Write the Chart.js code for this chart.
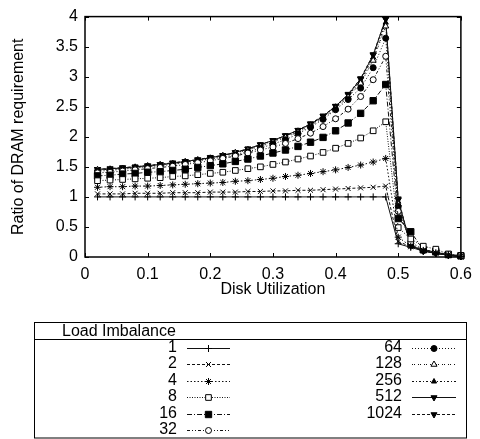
<!DOCTYPE html>
<html>
<head>
<meta charset="utf-8">
<script src="https://cdn.jsdelivr.net/npm/chart.js@4/dist/chart.umd.min.js"></script>
<style>
  html, body { margin: 0; padding: 0; background: #fff; }
  canvas { display: block; }
</style>
</head>
<body>
<canvas id="c" width="480" height="439"></canvas>
<script>
// Disk utilization (x) and DRAM requirement ratio for each load-imbalance factor
const utilization = [0.02,0.04,0.06,0.08,0.10,0.12,0.14,0.16,0.18,0.20,0.22,0.24,0.26,0.28,0.30,
                     0.32,0.34,0.36,0.38,0.40,0.42,0.44,0.46,0.48,0.50,0.52,0.54,0.56,0.58,0.60];

const imbalanceLabels = ['1','2','4','8','16','32','64','128','256','512','1024'];

const ratio1 = [1,1,1,1,1,1,1,1,1,1,1,1,1,1,1,1,1,1,1,1,1,1,1,1,
                0.22,0.16,0.10,0.06,0.03,0.01];
const ratio2 = [1.05,1.05,1.05,1.06,1.06,1.06,1.07,1.07,1.07,1.08,1.08,1.08,1.09,1.09,1.10,1.10,1.11,1.11,1.12,1.13,1.14,1.15,1.16,1.18,
                0.26,0.17,0.11,0.07,0.03,0.01];
const ratio4 = [1.16,1.17,1.17,1.18,1.18,1.19,1.20,1.21,1.22,1.23,1.24,1.26,1.27,1.29,1.31,1.34,1.36,1.39,1.42,1.45,1.49,1.53,1.58,1.64,
                0.33,0.18,0.11,0.07,0.04,0.01];
const ratio8 = [1.27,1.28,1.29,1.30,1.31,1.32,1.34,1.35,1.37,1.39,1.41,1.44,1.47,1.50,1.54,1.58,1.63,1.68,1.74,1.81,1.89,1.98,2.10,2.25,
                0.49,0.30,0.18,0.13,0.05,0.02];
const ratio16 = [1.35,1.36,1.38,1.39,1.41,1.42,1.44,1.46,1.49,1.52,1.55,1.59,1.63,1.68,1.73,1.78,1.84,1.91,1.99,2.10,2.23,2.39,2.60,2.87,
                 0.64,0.42,0.12,0.09,0.04,0.02];
const ratio32 = [1.40,1.41,1.43,1.45,1.47,1.49,1.51,1.54,1.57,1.60,1.64,1.68,1.73,1.78,1.83,1.89,1.97,2.06,2.17,2.30,2.46,2.67,2.95,3.34,
                 0.76,0.25,0.12,0.08,0.04,0.02];
const ratio64 = [1.43,1.44,1.46,1.48,1.50,1.52,1.54,1.57,1.60,1.63,1.66,1.70,1.75,1.81,1.88,1.95,2.05,2.16,2.29,2.45,2.62,2.81,3.15,3.64,
                 0.84,0.22,0.11,0.08,0.04,0.02];
const ratio128 = [1.45,1.46,1.47,1.49,1.51,1.53,1.55,1.58,1.61,1.64,1.68,1.73,1.78,1.84,1.91,1.99,2.08,2.18,2.31,2.47,2.66,2.89,3.27,3.84,
                  0.88,0.21,0.11,0.07,0.04,0.02];
const ratio256 = [1.45,1.46,1.48,1.50,1.52,1.54,1.56,1.59,1.62,1.65,1.69,1.74,1.79,1.86,1.93,2.01,2.10,2.20,2.33,2.50,2.68,2.93,3.32,3.90,
                  0.92,0.20,0.10,0.07,0.03,0.01];
const ratio512 = [1.46,1.47,1.48,1.50,1.52,1.54,1.56,1.59,1.62,1.65,1.69,1.74,1.80,1.87,1.94,2.02,2.11,2.21,2.34,2.51,2.70,2.96,3.36,3.96,
                  0.95,0.19,0.10,0.06,0.03,0.01];
const ratio1024 = [1.46,1.47,1.49,1.50,1.52,1.54,1.57,1.59,1.62,1.66,1.69,1.74,1.80,1.87,1.94,2.02,2.11,2.22,2.35,2.51,2.71,2.97,3.37,3.96,
                   0.97,0.19,0.10,0.06,0.03,0.01];

const xTickLabels = ['0','0.1','0.2','0.3','0.4','0.5','0.6'];
const yTickLabels = ['0','0.5','1','1.5','2','2.5','3','3.5','4'];

const allRatios = [ratio1, ratio2, ratio4, ratio8, ratio16, ratio32, ratio64, ratio128, ratio256, ratio512, ratio1024];

// Line dash and marker per series (gnuplot-like point types)
const seriesStyles = [
  { dash: [],             point: 'cross',    open: false, r: 3.5, rot: 0 },
  { dash: [3, 2],         point: 'crossRot', open: false, r: 3.5, rot: 0 },
  { dash: [1.5, 2],       point: 'star',     open: false, r: 3.5, rot: 0 },
  { dash: [1, 1.5],       point: 'rect',     open: true,  r: 4,   rot: 0 },
  { dash: [5, 2, 1, 2],   point: 'rect',     open: false, r: 4.5, rot: 0 },
  { dash: [3, 2, 1, 2, 1, 2], point: 'circle', open: true, r: 3,  rot: 0 },
  { dash: [1, 2],         point: 'circle',   open: false, r: 3,   rot: 0 },
  { dash: [1, 1, 1, 3],   point: 'triangle', open: true,  r: 3.5, rot: 0 },
  { dash: [2, 2, 1, 2],   point: 'triangle', open: false, r: 3,   rot: 0 },
  { dash: [],             point: 'triangle', open: false, r: 3.5, rot: 180 },
  { dash: [3, 2],         point: 'triangle', open: false, r: 3.5, rot: 180 }
];

const FONT_FAMILY = '"Liberation Sans", Arial, Helvetica, sans-serif';
const INK = '#000';

const datasets = allRatios.map((vals, i) => {
  const st = seriesStyles[i];
  return {
    label: imbalanceLabels[i],
    data: utilization.map((u, k) => ({ x: u, y: vals[k] })),
    borderColor: '#111',
    borderWidth: 1,
    borderDash: st.dash,
    backgroundColor: st.open ? '#fff' : '#000',
    pointStyle: st.point,
    pointRotation: st.rot,
    pointRadius: st.r,
    pointBorderWidth: 1,
    pointBorderColor: '#000',
    pointBackgroundColor: st.open ? '#fff' : '#000',
    tension: 0,
    clip: false
  };
});

function drawMarker(ctx, st, x, y) {
  ctx.save();
  ctx.setLineDash([]);
  ctx.lineWidth = 1;
  ctx.strokeStyle = '#000';
  ctx.fillStyle = st.open ? '#fff' : '#000';
  Chart.helpers.drawPoint(ctx, { pointStyle: st.point, rotation: st.rot, radius: st.r, borderWidth: 1 }, x, y);
  ctx.restore();
}

// Frame with inward ticks on all four sides, plus the boxed key below the plot
const framePlugin = {
  id: 'frameAndKey',
  afterDraw(chart) {
    const ctx = chart.ctx;
    const { left, right, top, bottom } = chart.chartArea;
    const xs = chart.scales.x, ys = chart.scales.y;
    ctx.save();
    ctx.strokeStyle = INK;
    ctx.lineWidth = 1;
    ctx.setLineDash([]);
    ctx.beginPath();
    xs.ticks.forEach(t => {
      const px = Math.round(xs.getPixelForValue(t.value)) + 0.5;
      ctx.moveTo(px, bottom); ctx.lineTo(px, bottom - 4);
      ctx.moveTo(px, top); ctx.lineTo(px, top + 4);
    });
    ys.ticks.forEach(t => {
      const py = Math.round(ys.getPixelForValue(t.value)) + 0.5;
      ctx.moveTo(left, py); ctx.lineTo(left + 4, py);
      ctx.moveTo(right, py); ctx.lineTo(right - 4, py);
    });
    ctx.stroke();
    ctx.lineWidth = 1.5;
    ctx.strokeRect(left, top, right - left, bottom - top);

    // key box
    const box = { x: 34.5, y: 322.5, w: 432, h: 115.5 };
    ctx.lineWidth = 1;
    ctx.strokeRect(box.x, box.y, box.w, box.h);
    ctx.beginPath();
    ctx.moveTo(box.x, 339.5); ctx.lineTo(box.x + box.w, 339.5);
    ctx.stroke();
    ctx.fillStyle = INK;
    ctx.font = '16px ' + FONT_FAMILY;
    ctx.textBaseline = 'middle';
    ctx.textAlign = 'left';
    ctx.fillText('Load Imbalance', 62, 331.5);

    const rowY0 = 347.5, rowStep = 16.5;
    const cols = [
      { labelRight: 177, x0: 187, x1: 230 },
      { labelRight: 402, x0: 412, x1: 456 }
    ];
    datasets.forEach((ds, i) => {
      const col = i < 6 ? cols[0] : cols[1];
      const row = i < 6 ? i : i - 6;
      const y = rowY0 + row * rowStep;
      ctx.textAlign = 'right';
      ctx.fillStyle = INK;
      ctx.fillText(ds.label, col.labelRight, y);
      ctx.save();
      ctx.strokeStyle = '#111';
      ctx.lineWidth = 1;
      ctx.setLineDash(seriesStyles[i].dash);
      ctx.beginPath();
      ctx.moveTo(col.x0, Math.round(y) + 0.5);
      ctx.lineTo(col.x1, Math.round(y) + 0.5);
      ctx.stroke();
      ctx.restore();
      drawMarker(ctx, seriesStyles[i], (col.x0 + col.x1) / 2, Math.round(y) + 0.5);
    });
    ctx.restore();
  }
};

new Chart(document.getElementById('c'), {
  type: 'line',
  data: { datasets },
  options: {
    responsive: false,
    animation: false,
    devicePixelRatio: 1,
    layout: { padding: { top: 10, right: 17, bottom: 132, left: 0 } },
    plugins: { legend: { display: false }, tooltip: { enabled: false } },
    scales: {
      x: {
        type: 'linear',
        min: 0, max: 0.6,
        afterFit: s => { s.height = 50; },
        grid: { display: false, drawTicks: false },
        border: { display: false },
        ticks: {
          stepSize: 0.1,
          padding: 8,
          color: INK,
          font: { family: FONT_FAMILY, size: 16 },
          maxRotation: 0,
          callback: (v, i) => xTickLabels[i]
        },
        title: {
          display: true,
          text: 'Disk Utilization',
          color: INK,
          font: { family: FONT_FAMILY, size: 16 },
          padding: { top: 0, bottom: 8 }
        }
      },
      y: {
        type: 'linear',
        min: 0, max: 4,
        afterFit: s => { s.width = 85; },
        grid: { display: false, drawTicks: false },
        border: { display: false },
        ticks: {
          stepSize: 0.5,
          padding: 7,
          color: INK,
          font: { family: FONT_FAMILY, size: 16 },
          callback: (v, i) => yTickLabels[i]
        },
        title: {
          display: true,
          text: 'Ratio of DRAM requirement',
          color: INK,
          font: { family: FONT_FAMILY, size: 16 },
          padding: { top: 9, bottom: 0 }
        }
      }
    }
  },
  plugins: [framePlugin]
});
</script>
</body>
</html>
